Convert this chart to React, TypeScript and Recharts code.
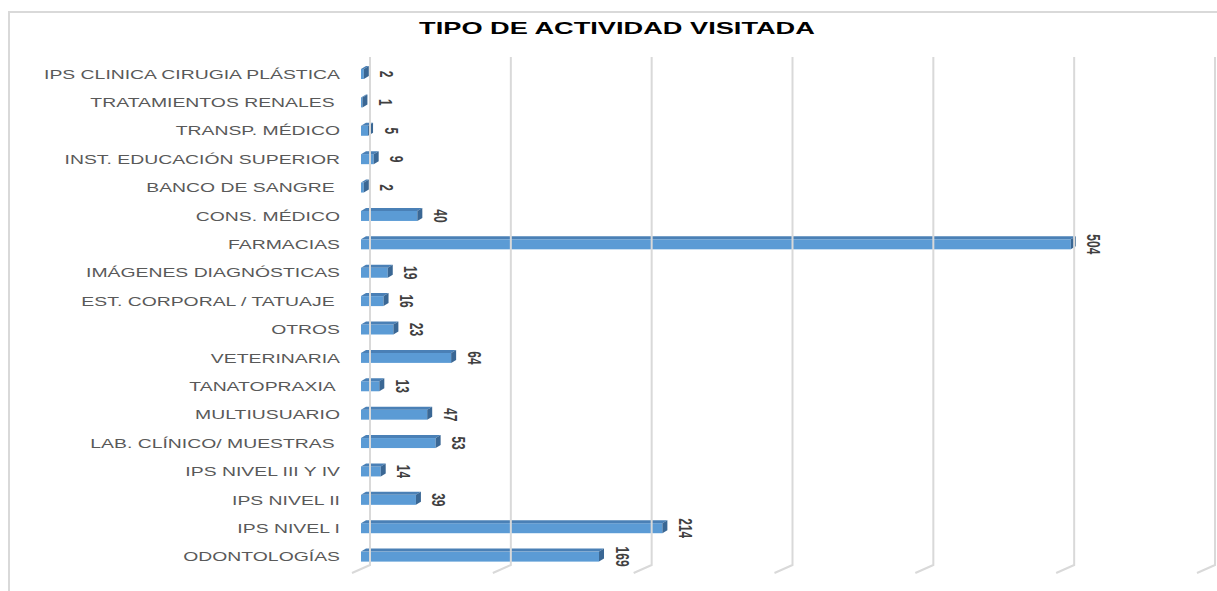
import React from "react";
import { BarChart, Bar, XAxis, YAxis, ReferenceLine, LabelList } from "recharts";

const categories = [
  "IPS CLINICA CIRUGIA PLÁSTICA",
  "TRATAMIENTOS RENALES ",
  "TRANSP. MÉDICO",
  "INST. EDUCACIÓN SUPERIOR",
  "BANCO DE SANGRE ",
  "CONS. MÉDICO",
  "FARMACIAS",
  "IMÁGENES DIAGNÓSTICAS",
  "EST. CORPORAL / TATUAJE ",
  "OTROS",
  "VETERINARIA",
  "TANATOPRAXIA ",
  "MULTIUSUARIO",
  "LAB. CLÍNICO/ MUESTRAS ",
  "IPS NIVEL III Y IV",
  "IPS NIVEL II",
  "IPS NIVEL I",
  "ODONTOLOGÍAS",
];

const visits = [2, 1, 5, 9, 2, 40, 504, 19, 16, 23, 64, 13, 47, 53, 14, 39, 214, 169];

const gridTicks = [0, 100, 200, 300, 400, 500, 600];

const data = categories.map((name, i) => ({ name, value: visits[i] }));

const FONT = "'Liberation Sans', Arial, sans-serif";
const STRETCH = 1.55;

const DX = 5;
const DY = 3;

const Bar3D = (props: any) => {
  const { x, y, width, height } = props;
  const w = Math.max(width, 0);
  return (
    <g>
      <rect x={x} y={y} width={w} height={height} fill="#5b9bd5" />
      <polygon
        points={`${x},${y} ${x + DX},${y - DY} ${x + w + DX},${y - DY} ${x + w},${y}`}
        fill="#4a80b6"
      />
      <polygon
        points={`${x + w},${y} ${x + w + DX},${y - DY} ${x + w + DX},${y + height - DY} ${x + w},${y + height}`}
        fill="#3a6794"
      />
    </g>
  );
};

const CategoryTick = (props: any) => {
  const { x, y, payload } = props;
  return (
    <text
      transform={`translate(${x},${y + 4.5}) scale(${STRETCH},1)`}
      textAnchor="end"
      fontFamily={FONT}
      fontSize={12.5}
      fill="#595959"
      style={{ whiteSpace: "pre" }}
    >
      {payload.value}
    </text>
  );
};

const ValueLabel = (props: any) => {
  const { x, y, width, height, value } = props;
  const cx = x + width + 23;
  const cy = y + height / 2;
  return (
    <text
      transform={`translate(${cx},${cy}) scale(1.5,1) rotate(90)`}
      textAnchor="middle"
      dominantBaseline="central"
      fontFamily={FONT}
      fontSize={12}
      fontWeight="bold"
      fill="#404040"
    >
      {value}
    </text>
  );
};

// back-wall grid line with the little floor slant at the bottom
const GridLine = (props: any) => {
  const { x1, y1, y2 } = props;
  const top = Math.min(y1, y2);
  const bottom = Math.max(y1, y2);
  const bx = x1 + 9;
  return (
    <path
      d={`M${bx},${top - 3} L${bx},${bottom - 6} L${bx - 18},${bottom + 2}`}
      fill="none"
      stroke="#d9d9d9"
      strokeWidth={2}
    />
  );
};

export default function App() {
  return (
    <div
      style={{
        position: "absolute",
        left: 0,
        top: 0,
        width: 1217,
        height: 591,
        overflow: "hidden",
        background: "#fff",
      }}
    >
      <div
        style={{
          position: "absolute",
          left: 8,
          top: 11,
          width: 1240,
          height: 620,
          borderLeft: "2px solid #d9d9d9",
          borderTop: "2px solid #d9d9d9",
        }}
      />
      <div style={{ position: "absolute", left: 0, top: 0 }}>
        <BarChart
          width={1217}
          height={591}
          data={data}
          layout="vertical"
          margin={{ top: 60, right: 11, bottom: 20, left: 0 }}
        >
          <XAxis
            type="number"
            domain={[0, 600]}
            ticks={gridTicks}
            tick={false}
            tickLine={false}
            axisLine={false}
            height={0}
          />
          <YAxis
            type="category"
            dataKey="name"
            width={361}
            axisLine={false}
            tickLine={false}
            tickSize={0}
            tickMargin={21}
            interval={0}
            tick={<CategoryTick />}
          />
          {gridTicks.map((t) => (
            <ReferenceLine key={t} x={t} ifOverflow="visible" shape={GridLine} />
          ))}
          <Bar dataKey="value" barSize={10} shape={<Bar3D />} isAnimationActive={false}>
            <LabelList dataKey="value" content={<ValueLabel />} />
          </Bar>
        </BarChart>
      </div>
      <svg
        width={1217}
        height={591}
        style={{ position: "absolute", left: 0, top: 0, pointerEvents: "none" }}
      >
        <text
          transform={`translate(617,34) scale(1.6,1)`}
          textAnchor="middle"
          fontFamily={FONT}
          fontSize={17}
          fontWeight="bold"
          fill="#000"
        >
          TIPO DE ACTIVIDAD VISITADA
        </text>
      </svg>
    </div>
  );
}
